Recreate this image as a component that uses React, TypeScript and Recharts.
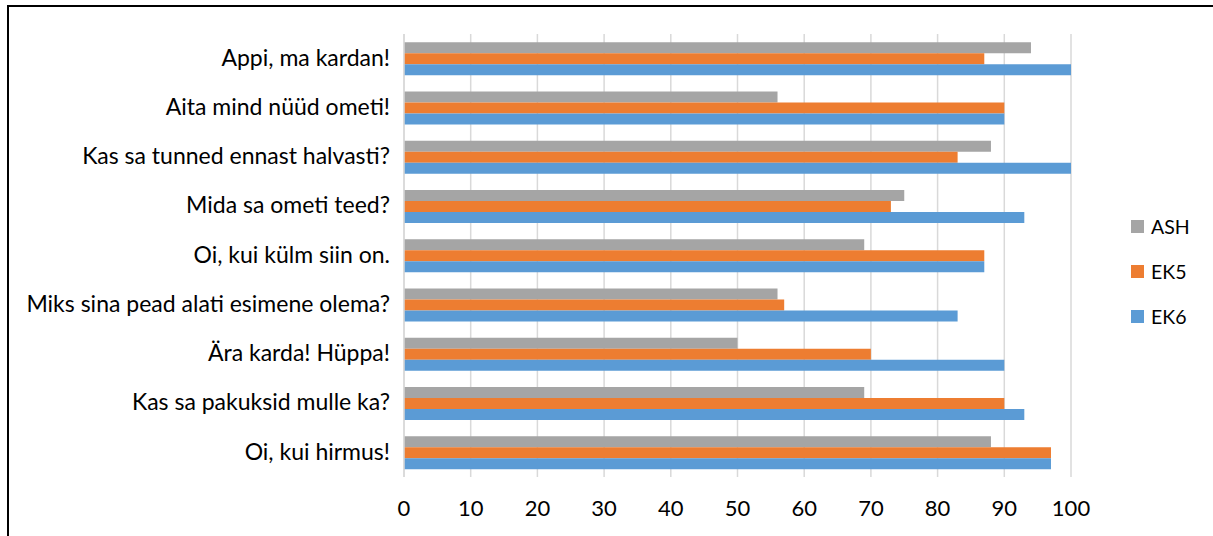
import React from "react";
import { BarChart, Bar, XAxis, YAxis, CartesianGrid } from "recharts";

const phrases = [
  "Appi, ma kardan!",
  "Aita mind nüüd ometi!",
  "Kas sa tunned ennast halvasti?",
  "Mida sa ometi teed?",
  "Oi, kui külm siin on.",
  "Miks sina pead alati esimene olema?",
  "Ära karda! Hüppa!",
  "Kas sa pakuksid mulle ka?",
  "Oi, kui hirmus!",
];

const ash = [94, 56, 88, 75, 69, 56, 50, 69, 88];
const ek5 = [87, 90, 83, 73, 87, 57, 70, 90, 97];
const ek6 = [100, 90, 100, 93, 87, 83, 90, 93, 97];

const xTicks = [0, 10, 20, 30, 40, 50, 60, 70, 80, 90, 100];

const series = [
  { key: "ASH", color: "#a5a5a5" },
  { key: "EK5", color: "#ed7d31" },
  { key: "EK6", color: "#5b9bd5" },
];

const data = phrases.map((phrase, i) => ({
  phrase,
  ASH: ash[i],
  EK5: ek5[i],
  EK6: ek6[i],
}));

const FONT = "Lato, 'Open Sans', sans-serif";

// legend sits to the right of the plot, outside the chart's own layout
function SideLegend() {
  return (
    <div
      style={{
        position: "absolute",
        left: 1131,
        top: 204,
        fontFamily: FONT,
        fontSize: 19.5,
        color: "#000",
      }}
    >
      {series.map((s) => (
        <div
          key={s.key}
          style={{ display: "flex", alignItems: "center", height: 45 }}
        >
          <span
            style={{
              width: 13,
              height: 13,
              background: s.color,
              marginRight: 7,
              display: "inline-block",
            }}
          />
          {s.key}
        </div>
      ))}
    </div>
  );
}

export default function App() {
  return (
    <div
      style={{
        position: "absolute",
        left: 0,
        top: 0,
        width: 1213,
        height: 536,
        overflow: "hidden",
        background: "#fff",
      }}
    >
      <div
        style={{
          position: "absolute",
          left: 7,
          top: 5,
          width: 1230,
          height: 560,
          border: "2px solid #000",
        }}
      />
      <BarChart
        width={1213}
        height={536}
        data={data}
        layout="vertical"
        margin={{ top: 34, right: 142, bottom: 0, left: 0 }}
        barCategoryGap="17%"
        barGap={0}
      >
        <CartesianGrid horizontal={false} stroke="#d9d9d9" strokeWidth={1.5} />
        <XAxis
          type="number"
          domain={[0, 100]}
          ticks={xTicks}
          interval={0}
          axisLine={false}
          tickLine={false}
          tickSize={0}
          tickMargin={23}
          height={59}
          tick={{ fill: "#000", fontSize: 22, fontFamily: FONT }}
        />
        <YAxis
          type="category"
          dataKey="phrase"
          width={404}
          axisLine={{ stroke: "#d9d9d9", strokeWidth: 1.5 }}
          tickLine={false}
          tickSize={0}
          tickMargin={14}
          interval={0}
          tick={{ fill: "#000", fontSize: 23, fontFamily: FONT, dy: -1 }}
        />
        {series.map((s) => (
          <Bar
            key={s.key}
            dataKey={s.key}
            fill={s.color}
            isAnimationActive={false}
          />
        ))}
      </BarChart>
      <SideLegend />
    </div>
  );
}
